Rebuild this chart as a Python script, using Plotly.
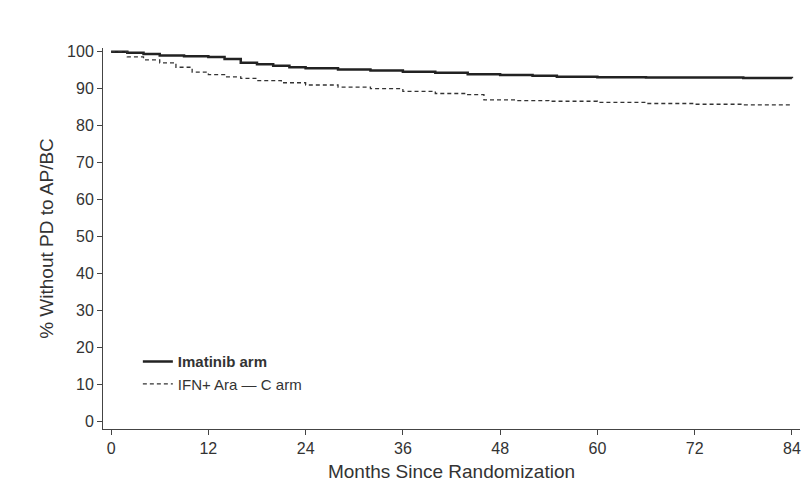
import plotly.graph_objects as go

ima_months = [0, 2, 4, 6, 9, 12, 14, 16, 18, 20, 22, 24, 28, 32, 36, 40, 44, 48, 52, 55, 60, 66, 72, 78, 84]
ima_pct = [100, 99.7, 99.4, 99.0, 98.8, 98.6, 98.0, 97.0, 96.6, 96.2, 95.8, 95.5, 95.2, 94.9, 94.6, 94.3, 93.9, 93.7, 93.5, 93.2, 93.1, 93.0, 93.0, 92.9, 92.8]

ifn_months = [0, 2, 4, 6, 8, 10, 12, 14, 16, 18, 21, 24, 28, 32, 36, 40, 44, 46, 50, 54, 60, 66, 72, 78, 84]
ifn_pct = [100, 98.6, 97.8, 97.0, 95.8, 94.5, 93.8, 93.2, 92.8, 92.2, 91.6, 91.0, 90.4, 90.0, 89.3, 88.7, 88.4, 87.0, 86.8, 86.6, 86.3, 86.0, 85.8, 85.6, 85.3]

x_ticks = [0, 12, 24, 36, 48, 60, 72, 84]
y_ticks = [0, 10, 20, 30, 40, 50, 60, 70, 80, 90, 100]

fig = go.Figure()
fig.add_trace(go.Scatter(x=ima_months, y=ima_pct, mode="lines", line_shape="hv",
                         line=dict(color="#222", width=2.5), name="<b>Imatinib arm</b>"))
fig.add_trace(go.Scatter(x=ifn_months, y=ifn_pct, mode="lines", line_shape="hv",
                         line=dict(color="#333", width=1.3, dash="4px,3px"), name="IFN+ Ara — C arm"))

fig.update_layout(
    width=812, height=493, plot_bgcolor="white", paper_bgcolor="white",
    margin=dict(l=95, r=20, t=40, b=72),
    font=dict(family="Liberation Sans, Arial", size=16, color="#333"),
    legend=dict(x=0.05, y=0.22, xanchor="left", yanchor="top", bgcolor="rgba(0,0,0,0)",
                font=dict(size=15)),
    xaxis=dict(range=[-1, 85], tickvals=x_ticks, showline=True, linecolor="#444",
               ticks="outside", tickcolor="#444", showgrid=False, zeroline=False,
               title=dict(text="Months Since Randomization", standoff=8)),
    yaxis=dict(range=[-2, 101], tickvals=y_ticks, showline=True, linecolor="#444",
               ticks="outside", tickcolor="#444", showgrid=False, zeroline=False,
               title=dict(text="% Without PD to AP/BC", standoff=8)),
)
fig.write_html("out.html")
